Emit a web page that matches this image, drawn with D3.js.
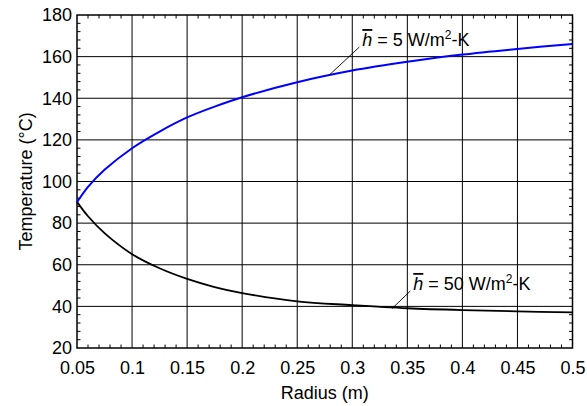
<!DOCTYPE html>
<html>
<head>
<meta charset="utf-8">
<script src="https://cdn.jsdelivr.net/npm/d3@7"></script>
<style>
  html, body { margin: 0; padding: 0; background: #fff; }
  svg { display: block; }
  text { font-family: "Liberation Sans", Arial, sans-serif; fill: #000; }
</style>
</head>
<body>
<svg id="chart" width="587" height="406"></svg>
<script>
(function () {
  'use strict';

  /* données */
  var radius  = [0.05, 0.06, 0.075, 0.1, 0.125, 0.15, 0.175, 0.2, 0.25, 0.3, 0.35, 0.4, 0.45, 0.5];
  var tempH5  = [90, 97.4, 105.6, 116, 124, 130.8, 136, 140.5, 147.7, 153.3, 157.5, 161, 163.7, 166.1];
  var tempH50 = [90.2, 83.3, 75.2, 65.1, 58.3, 53.2, 49.3, 46.4, 42.4, 40.6, 39.1, 38.2, 37.6, 37.1];

  var xTicks = [0.05, 0.1, 0.15, 0.2, 0.25, 0.3, 0.35, 0.4, 0.45, 0.5];
  var yTicks = [20, 40, 60, 80, 100, 120, 140, 160, 180];

  var margin = { left: 77, right: 14.5, top: 15, bottom: 58 };
  var W = 587, H = 406;
  var FS = 18;

  var svg = d3.select('#chart');
  var x = d3.scaleLinear().domain([0.05, 0.5]).range([margin.left, W - margin.right]);
  var y = d3.scaleLinear().domain([20, 180]).range([H - margin.bottom, margin.top]);

  var x0 = x.range()[0], x1 = x.range()[1];
  var y0 = y.range()[0], y1 = y.range()[1];

  /* grille */
  var grid = svg.append('g').attr('stroke', '#000').attr('stroke-width', 1);
  grid.selectAll('.gx').data(xTicks.slice(1, -1)).enter().append('line')
    .attr('x1', function (d) { return x(d); }).attr('x2', function (d) { return x(d); })
    .attr('y1', y0).attr('y2', y1);
  grid.selectAll('.gy').data(yTicks.slice(1, -1)).enter().append('line')
    .attr('y1', function (d) { return y(d); }).attr('y2', function (d) { return y(d); })
    .attr('x1', x0).attr('x2', x1);

  /* petites graduations vers l'intérieur */
  var minorX = d3.range(5, 51).map(function (i) { return i / 100; })
    .filter(function (v) { return Math.round(v * 100) % 5 !== 0; });
  var minorY = d3.range(20, 181, 4).filter(function (v) { return v % 20 !== 0; });
  var tk = svg.append('g').attr('stroke', '#000').attr('stroke-width', 1);
  minorX.forEach(function (v) {
    tk.append('line').attr('x1', x(v)).attr('x2', x(v)).attr('y1', y0).attr('y2', y0 - 3.5);
    tk.append('line').attr('x1', x(v)).attr('x2', x(v)).attr('y1', y1).attr('y2', y1 + 3.5);
  });
  minorY.forEach(function (v) {
    tk.append('line').attr('y1', y(v)).attr('y2', y(v)).attr('x1', x0).attr('x2', x0 + 3.5);
    tk.append('line').attr('y1', y(v)).attr('y2', y(v)).attr('x1', x1).attr('x2', x1 - 3.5);
  });

  /* axes (étiquettes seulement) */
  var xAxis = svg.append('g').attr('transform', 'translate(0,' + y0 + ')')
    .call(d3.axisBottom(x).tickValues(xTicks).tickSize(0).tickPadding(13)
      .tickFormat(function (d) { return String(+d.toFixed(2)); }));
  var yAxis = svg.append('g').attr('transform', 'translate(' + x0 + ',0)')
    .call(d3.axisLeft(y).tickValues(yTicks).tickSize(0).tickPadding(5));
  [xAxis, yAxis].forEach(function (a) {
    a.select('.domain').remove();
    a.selectAll('text').attr('font-size', FS).attr('font-family', '"Liberation Sans", Arial, sans-serif');
  });

  /* cadre */
  svg.append('rect').attr('x', x0).attr('y', y1).attr('width', x1 - x0).attr('height', y0 - y1)
    .attr('fill', 'none').attr('stroke', '#000').attr('stroke-width', 1.5);

  /* courbes */
  var line = d3.line()
    .x(function (d) { return x(d[0]); })
    .y(function (d) { return y(d[1]); })
    .curve(d3.curveCatmullRom.alpha(0.5));

  svg.append('path').datum(d3.zip(radius, tempH50))
    .attr('d', line).attr('fill', 'none').attr('stroke', '#000').attr('stroke-width', 1.8);
  svg.append('path').datum(d3.zip(radius, tempH5))
    .attr('d', line).attr('fill', 'none').attr('stroke', '#0000ff').attr('stroke-width', 2);

  /* annotations */
  function label(px, py, lx, ly, hval) {
    svg.append('line')
      .attr('x1', x(px)).attr('y1', y(py)).attr('x2', x(lx)).attr('y2', y(ly))
      .attr('stroke', '#000').attr('stroke-width', 0.9);
    var t = svg.append('text').attr('x', x(lx) + 3).attr('y', y(ly) - 1).attr('font-size', FS);
    t.append('tspan').attr('font-style', 'italic').style('text-decoration', 'overline').text('h');
    t.append('tspan').text(' = ' + hval + ' W/m');
    t.append('tspan').attr('font-size', 12).attr('dy', -7).text('2');
    t.append('tspan').attr('dy', 7).text('-K');
  }
  label(0.279, 151.1, 0.3064, 164.6, 5);
  label(0.336, 38.9, 0.3527, 47.4, 50);

  /* titres des axes */
  svg.append('text').attr('x', (x0 + x1) / 2).attr('y', 399)
    .attr('text-anchor', 'middle').attr('font-size', FS).text('Radius (m)');
  svg.append('text').attr('transform', 'translate(32,' + ((y0 + y1) / 2) + ') rotate(-90)')
    .attr('text-anchor', 'middle').attr('font-size', FS).text('Temperature (°C)');
})();
</script>
</body>
</html>
